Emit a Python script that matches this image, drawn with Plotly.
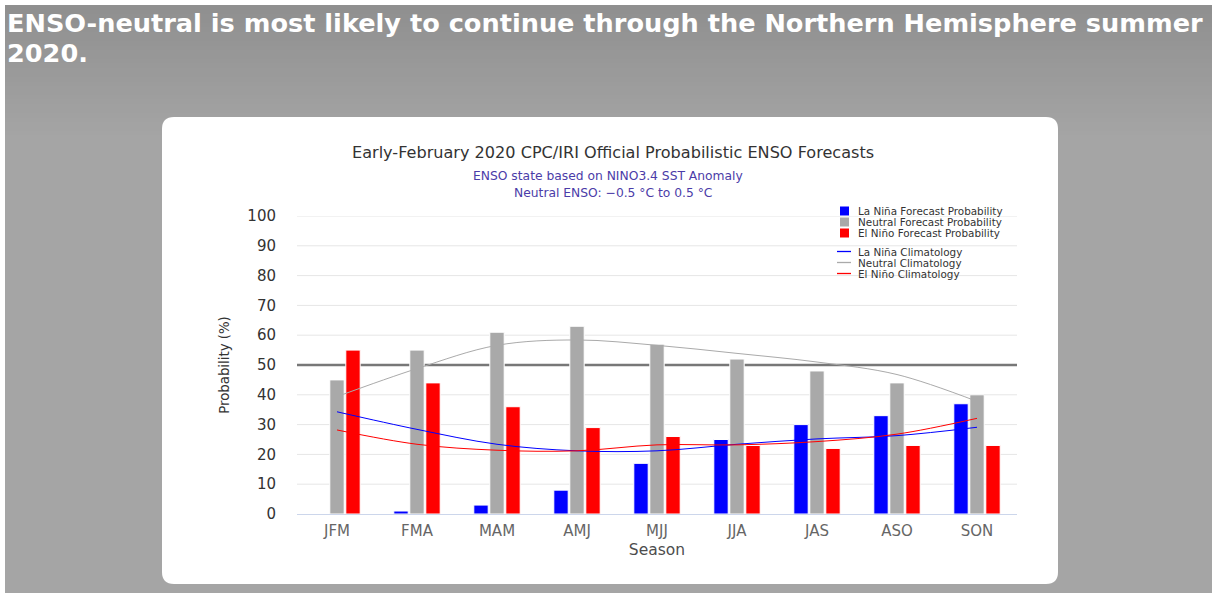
import plotly.graph_objects as go

# ---------------- data ----------------
seasons = ["JFM", "FMA", "MAM", "AMJ", "MJJ", "JJA", "JAS", "ASO", "SON"]
lanina_prob = [0, 1, 3, 8, 17, 25, 30, 33, 37]
neutral_prob = [45, 55, 61, 63, 57, 52, 48, 44, 40]
elnino_prob = [55, 44, 36, 29, 26, 23, 22, 23, 23]
lanina_clim = [34.3, 28.4, 23.4, 21.2, 21.2, 23.4, 25.2, 26.3, 29.1]
neutral_clim = [39.4, 48.8, 56.6, 58.4, 56.6, 53.9, 51.0, 46.8, 37.8]
elnino_clim = [28.2, 23.4, 21.4, 21.2, 23.2, 23.2, 24.3, 26.8, 32.1]
threshold = 50
y_ticks = [0, 10, 20, 30, 40, 50, 60, 70, 80, 90, 100]

headline_1 = "ENSO-neutral is most likely to continue through the Northern Hemisphere summer"
headline_2 = "2020."
chart_title = "Early-February 2020 CPC/IRI Official Probabilistic ENSO Forecasts"
sub_1 = "ENSO state based on NINO3.4 SST Anomaly"
sub_2 = "Neutral ENSO: \u22120.5 \u00b0C to 0.5 \u00b0C"
legend_bars = [("La Niña Forecast Probability", "#0000ff"),
               ("Neutral Forecast Probability", "#a9a9a9"),
               ("El Niño Forecast Probability", "#ff0000")]
legend_lines = [("La Niña Climatology", "#0000ff"),
                ("Neutral Climatology", "#aaaaaa"),
                ("El Niño Climatology", "#ff0000")]

# ---------------- layout geometry (pixels) ----------------
W, H = 1212, 593
PL, PR, PT, PB = 297, 1017, 216, 514  # plot area


def px(x):
    return (x - PL) / (PR - PL)


def py(y):
    return (PB - y) / (PB - PT)


FONT = "DejaVu Sans"

fig = go.Figure()

fig.add_trace(go.Bar(x=seasons, y=lanina_prob, name="La Niña Forecast Probability",
                     marker=dict(color="#0000ff", line=dict(color="white", width=1)),
                     showlegend=False))
fig.add_trace(go.Bar(x=seasons, y=neutral_prob, name="Neutral Forecast Probability",
                     marker=dict(color="#a9a9a9", line=dict(color="white", width=1)),
                     showlegend=False))
fig.add_trace(go.Bar(x=seasons, y=elnino_prob, name="El Niño Forecast Probability",
                     marker=dict(color="#ff0000", line=dict(color="white", width=1)),
                     showlegend=False))

for vals, col, nm in [(lanina_clim, "#0000ff", "La Niña Climatology"),
                      (neutral_clim, "#aaaaaa", "Neutral Climatology"),
                      (elnino_clim, "#ff0000", "El Niño Climatology")]:
    fig.add_trace(go.Scatter(x=seasons, y=vals, mode="lines", name=nm,
                             line=dict(color=col, width=1, shape="spline", smoothing=1.0),
                             showlegend=False))

shapes = []
# background: white page with grey gradient panel
n_bands = 30
top, bottom_grad = 5, 140
c0, c1 = 0x8f, 0xa5
for i in range(n_bands):
    y0 = top + (bottom_grad - top) * i / n_bands
    y1 = top + (bottom_grad - top) * (i + 1) / n_bands + 0.5
    c = int(round(c0 + (c1 - c0) * i / (n_bands - 1)))
    shapes.append(dict(type="rect", xref="paper", yref="paper", layer="below",
                       x0=px(5), x1=px(W), y0=py(y1), y1=py(y0),
                       fillcolor=f"rgb({c},{c},{c})", line=dict(width=0)))
shapes.append(dict(type="rect", xref="paper", yref="paper", layer="below",
                   x0=px(5), x1=px(W), y0=py(H), y1=py(bottom_grad),
                   fillcolor=f"rgb({c1},{c1},{c1})", line=dict(width=0)))

# white rounded card
cx0, cx1, cy0, cy1, r = 162, 1058, 117, 584, 12


def P(x, y):
    return f"{px(x)},{py(y)}"


path = (f"M {P(cx0 + r, cy0)} L {P(cx1 - r, cy0)} Q {P(cx1, cy0)} {P(cx1, cy0 + r)} "
        f"L {P(cx1, cy1 - r)} Q {P(cx1, cy1)} {P(cx1 - r, cy1)} "
        f"L {P(cx0 + r, cy1)} Q {P(cx0, cy1)} {P(cx0, cy1 - r)} "
        f"L {P(cx0, cy0 + r)} Q {P(cx0, cy0)} {P(cx0 + r, cy0)} Z")
shapes.append(dict(type="path", xref="paper", yref="paper", layer="below", path=path,
                   fillcolor="white", line=dict(width=0)))

# horizontal gridlines (drawn beneath the bars)
for t in y_ticks[1:]:
    shapes.append(dict(type="line", xref="paper", yref="y", layer="below",
                       x0=0, x1=1, y0=t, y1=t, line=dict(color="#e6e6e6", width=1)))

# threshold line at 50 (beneath the bars, above gridlines)
shapes.append(dict(type="line", xref="paper", yref="y", layer="below",
                   x0=0, x1=1, y0=threshold, y1=threshold,
                   line=dict(color="#777777", width=2.6)))

annotations = []
annotations.append(dict(text=headline_1, xref="paper", yref="paper", x=px(5), y=py(6),
                        xanchor="left", yanchor="top", showarrow=False,
                        font=dict(family=FONT, size=25.6, color="white", weight="bold")))
annotations.append(dict(text=headline_2, xref="paper", yref="paper", x=px(5), y=py(36),
                        xanchor="left", yanchor="top", showarrow=False,
                        font=dict(family=FONT, size=25.6, color="white", weight="bold")))
annotations.append(dict(text=chart_title, xref="paper", yref="paper", x=px(613), y=py(153),
                        xanchor="center", yanchor="middle", showarrow=False,
                        font=dict(family=FONT, size=16.1, color="#333333")))
annotations.append(dict(text=sub_1, xref="paper", yref="paper", x=px(608), y=py(176),
                        xanchor="center", yanchor="middle", showarrow=False,
                        font=dict(family=FONT, size=12.3, color="#4b3ca8")))
annotations.append(dict(text=sub_2, xref="paper", yref="paper", x=px(613), y=py(193),
                        xanchor="center", yanchor="middle", showarrow=False,
                        font=dict(family=FONT, size=12.3, color="#4b3ca8")))

# manual legend
for i, (lab, col) in enumerate(legend_bars):
    yc = 211 + 11 * i
    shapes.append(dict(type="rect", xref="paper", yref="paper",
                       x0=px(840), x1=px(849), y0=py(yc + 4.5), y1=py(yc - 4.5),
                       fillcolor=col, line=dict(width=0)))
    annotations.append(dict(text=lab, xref="paper", yref="paper", x=px(856), y=py(yc),
                            xanchor="left", yanchor="middle", showarrow=False,
                            font=dict(family=FONT, size=10.4, color="#333333")))
for i, (lab, col) in enumerate(legend_lines):
    yc = 251.5 + 11 * i
    shapes.append(dict(type="line", xref="paper", yref="paper",
                       x0=px(837), x1=px(851), y0=py(yc), y1=py(yc),
                       line=dict(color=col, width=1.3)))
    annotations.append(dict(text=lab, xref="paper", yref="paper", x=px(856), y=py(yc),
                            xanchor="left", yanchor="middle", showarrow=False,
                            font=dict(family=FONT, size=10.4, color="#333333")))

fig.update_layout(
    width=W, height=H,
    margin=dict(l=PL, r=W - PR, t=PT, b=H - PB, pad=0),
    paper_bgcolor="white", plot_bgcolor="rgba(0,0,0,0)",
    barmode="group", bargap=0.4, bargroupgap=0.1,
    shapes=shapes, annotations=annotations,
    showlegend=False,
    font=dict(family=FONT),
)
fig.update_xaxes(showgrid=False, showline=True, linecolor="#ccd6eb", linewidth=1,
                 ticks="", ticklabelstandoff=3,
                 tickfont=dict(family=FONT, size=15, color="#666666"),
                 title=dict(text="Season", font=dict(family=FONT, size=15.5, color="#4d4d4d"),
                            standoff=5))
fig.update_yaxes(range=[0, 100], tickvals=y_ticks, showgrid=False,
                 zeroline=False, ticks="", ticklabelstandoff=20,
                 tickfont=dict(family=FONT, size=15, color="#333333"),
                 title=dict(text="Probability (%)",
                            font=dict(family=FONT, size=13.3, color="#333333"), standoff=14))

fig.write_html("out.html", config={"displayModeBar": False},
               post_script="document.body.style.margin='0';document.body.style.overflow='hidden';")
